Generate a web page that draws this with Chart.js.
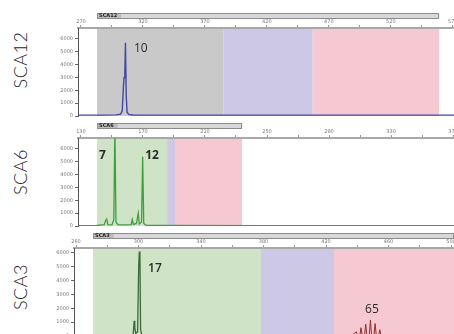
<!DOCTYPE html>
<html>
<head>
<meta charset="utf-8">
<script src="https://cdn.jsdelivr.net/npm/chart.js@4"></script>
<style>
html, body { margin: 0; padding: 0; background: #fff; }
#wrap { position: relative; width: 454px; height: 334px; overflow: hidden; background: #fff; }
#wrap canvas { position: absolute; left: 50px; }
.side {
  position: absolute; left: 20px;
  transform: translate(-50%, -50%) rotate(-90deg);
  font-family: "Lato", "Open Sans", sans-serif; font-weight: 300;
  font-size: 18px; color: #1e1e1e; white-space: nowrap; letter-spacing: 0.5px;
}
</style>
</head>
<body>
<div id="wrap">
  <div class="side" style="top:60px">SCA12</div>
  <div class="side" style="top:172px">SCA6</div>
  <div class="side" style="top:287px">SCA3</div>
  <canvas id="sca12" width="404" height="114" style="top:6px"></canvas>
  <canvas id="sca6" width="404" height="114" style="top:116px"></canvas>
  <canvas id="sca3" width="404" height="114" style="top:226px"></canvas>
</div>
<script>
/* ================================
   DATA
================================ */

// y axis, RFU
const rfuTicks = [0, 1000, 2000, 3000, 4000, 5000, 6000];

// SCA12
const sca12Ticks = [270, 320, 370, 420, 470, 520, 570];
const sca12Bins = [[283, 385], [385, 457], [457, 559]];
const sca12TraceBp  = [267.6, 285, 298, 302, 303.3, 304.2, 304.8, 305.4, 305.9, 306.5, 307.2, 308.5, 312, 340, 400, 480, 571];
const sca12TraceRfu = [70, 70, 90, 150, 400, 2200, 3000, 3300, 5700, 1600, 300, 120, 80, 70, 70, 70, 70];
const sca12Calls = ['10'];
const sca12CallBp = [312.7];
const sca12CallRfu = [5230];

// SCA6
const sca6Ticks = [130, 170, 210, 250, 290, 330, 370];
const sca6Bins = [[140.4, 185.6], [185.6, 190.7], [190.7, 233.9]];
const sca6TraceBp  = [128.1, 140, 145, 146, 146.6, 147.4, 150, 151.2, 151.9, 152.6, 154, 160, 162.4, 163.1, 163.8, 165.8, 166.5, 167, 167.6, 169.1, 169.8, 170.5, 172, 180, 250, 370.6];
const sca6TraceRfu = [30, 40, 100, 450, 550, 100, 90, 500, 7600, 300, 90, 80, 100, 500, 120, 200, 700, 1000, 150, 300, 5400, 200, 60, 40, 30, 30];
const sca6Calls = ['7', '12'];
const sca6CallBp = [141.6, 171.4];
const sca6CallRfu = [5470, 5470];

// SCA3
const sca3Ticks = [260, 300, 340, 380, 420, 460, 500];
const sca3Bins = [[270.9, 378.4], [378.4, 425.1], [425.1, 501.9]];
const sca3TraceBp  = [258.7, 290, 296.6, 297.2, 297.6, 298.2, 299.4, 300.1, 300.5, 300.9, 301.3, 302, 310, 380, 430];
const sca3TraceRfu = [20, 20, 100, 1100, 600, 200, 300, 5000, 6100, 5800, 500, 60, 20, 20, 20];
const sca3ExpBp  = [436, 439.4, 440.2, 441.6, 442.4, 443.2, 444.6, 445.4, 446.2, 447.6, 448.4, 449.2, 450.6, 451.4, 452.2, 453.6, 454.4, 455.2, 458];
const sca3ExpRfu = [0, 300, 0, 0, 600, 0, 0, 850, 0, 0, 1150, 0, 0, 900, 0, 0, 450, 0, 0];
const sca3Calls = ['17', '65'];
const sca3CallBp = [306.1, 445];
const sca3CallRfu = [4900, 1900];

/* ================================
   STYLE
================================ */

const binGray = "#c9c9c9";
const binGreen = "#cfe4c6";
const binPurple = "#cdc8e5";
const binPink = "#f6c8d1";

/* ================================
   PLUGINS
================================ */

const binPlugin = {
  id: "bins",
  beforeDraw(chart, args, opts) {
    const ctx = chart.ctx, a = chart.chartArea, x = chart.scales.x;
    ctx.save();
    opts.bins.forEach((b, i) => {
      const x0 = x.getPixelForValue(b[0]);
      const x1 = x.getPixelForValue(b[1]);
      ctx.fillStyle = opts.colors[i];
      ctx.fillRect(x0, a.top, x1 - x0, a.bottom - a.top);
    });
    // marker bar above the axis
    const bx0 = x.getPixelForValue(opts.bins[0][0]);
    const bx1 = x.getPixelForValue(opts.bins[opts.bins.length - 1][1]);
    const by = a.top - 15;
    ctx.fillStyle = "#d8d8d8";
    ctx.fillRect(bx0, by, bx1 - bx0, 5);
    ctx.font = "bold 5px 'DejaVu Sans'";
    const tw = ctx.measureText(opts.name).width;
    ctx.fillStyle = "#bdbdbd";
    ctx.fillRect(bx0, by, tw + 6, 5);
    ctx.strokeStyle = "#8c8c8c";
    ctx.lineWidth = 1;
    ctx.strokeRect(bx0 + 0.5, by + 0.5, bx1 - bx0 - 1, 5);
    ctx.fillStyle = "#222";
    ctx.textBaseline = "middle";
    ctx.fillText(opts.name, bx0 + 2, by + 3);
    ctx.restore();
  }
};

const callPlugin = {
  id: "calls",
  afterDatasetsDraw(chart, args, opts) {
    const ctx = chart.ctx;
    ctx.save();
    ctx.textBaseline = "middle";
    ctx.textAlign = "left";
    opts.texts.forEach((t, i) => {
      ctx.font = opts.fonts[i];
      ctx.fillStyle = opts.color;
      ctx.fillText(t, chart.scales.x.getPixelForValue(opts.bp[i]), chart.scales.y.getPixelForValue(opts.rfu[i]));
    });
    ctx.restore();
  }
};

/* ================================
   PANEL BUILDER
================================ */

function makePanel(id, p) {
  const minorX = [];
  p.ticks.forEach((t, i) => {
    if (i < p.ticks.length - 1) minorX.push((t + p.ticks[i + 1]) / 2);
  });
  const allX = p.ticks.concat(minorX).filter(v => v >= p.min && v <= p.max).sort((a, b) => a - b);
  const allY = [];
  rfuTicks.forEach(v => { allY.push(v); allY.push(v + 500); });
  const yTicks = allY.filter(v => v <= p.yMax);

  new Chart(document.getElementById(id), {
    type: "line",
    data: {
      datasets: p.traces.map(tr => ({
        data: tr.bp.map((b, i) => ({ x: b, y: tr.rfu[i] })),
        borderColor: tr.color,
        borderWidth: tr.width,
        pointRadius: 0,
        tension: 0
      }))
    },
    options: {
      responsive: false,
      animation: false,
      layout: { padding: { top: 12, right: 0, bottom: 4, left: 0 } },
      plugins: {
        legend: { display: false },
        tooltip: { enabled: false },
        bins: { bins: p.bins, colors: p.binColors, name: p.name },
        calls: { texts: p.calls, bp: p.callBp, rfu: p.callRfu, fonts: p.callFonts, color: "#2a2a2a" }
      },
      scales: {
        x: {
          type: "linear",
          position: "top",
          min: p.min,
          max: p.max,
          afterBuildTicks: s => { s.ticks = allX.map(v => ({ value: v })); },
          afterFit: s => { s.height = 10; s.paddingLeft = 0; s.paddingRight = 0; },
          ticks: {
            autoSkip: false,
            maxRotation: 0,
            padding: 0,
            color: "#777",
            font: { size: 5, family: "DejaVu Sans" },
            callback: v => p.ticks.includes(v) ? String(v) : ""
          },
          grid: { drawOnChartArea: false, tickLength: 3, color: "#999" },
          border: { color: "#a8a8a8", width: 2 }
        },
        y: {
          min: 0,
          max: p.yMax,
          afterBuildTicks: s => { s.ticks = yTicks.map(v => ({ value: v })); },
          afterFit: s => { s.width = p.axisW; s.paddingTop = 0; s.paddingBottom = 0; },
          ticks: {
            padding: 2,
            color: "#777",
            font: { size: 5, family: "DejaVu Sans" },
            callback: v => v % 1000 === 0 ? String(v) : ""
          },
          grid: { drawOnChartArea: false, tickLength: 3, color: "#666" },
          border: { color: "#555", width: 1 }
        }
      }
    },
    plugins: [binPlugin, callPlugin]
  });
}

makePanel("sca12", {
  name: "SCA12",
  ticks: sca12Ticks, min: 267.6, max: 571, yMax: 6857, axisW: 28,
  bins: sca12Bins, binColors: [binGray, binPurple, binPink],
  traces: [{ bp: sca12TraceBp, rfu: sca12TraceRfu, color: "#4646a6", width: 1.4 }],
  calls: sca12Calls, callBp: sca12CallBp, callRfu: sca12CallRfu,
  callFonts: ["12px 'Open Sans'"]
});

makePanel("sca6", {
  name: "SCA6",
  ticks: sca6Ticks, min: 128.1, max: 370.6, yMax: 6857, axisW: 28,
  bins: sca6Bins, binColors: [binGreen, binPurple, binPink],
  traces: [{ bp: sca6TraceBp, rfu: sca6TraceRfu, color: "#3f9f3f", width: 1.3 }],
  calls: sca6Calls, callBp: sca6CallBp, callRfu: sca6CallRfu,
  callFonts: ["bold 12px 'Open Sans'", "bold 12px 'Open Sans'"]
});

makePanel("sca3", {
  name: "SCA3",
  ticks: sca3Ticks, min: 258.7, max: 501.9, yMax: 6361, axisW: 24,
  bins: sca3Bins, binColors: [binGreen, binPurple, binPink],
  traces: [
    { bp: sca3TraceBp, rfu: sca3TraceRfu, color: "#3a6a3a", width: 1.3 },
    { bp: sca3ExpBp, rfu: sca3ExpRfu, color: "#8a3232", width: 1 }
  ],
  calls: sca3Calls, callBp: sca3CallBp, callRfu: sca3CallRfu,
  callFonts: ["600 12px 'Open Sans'", "12px 'Open Sans'"]
});
</script>
</body>
</html>
